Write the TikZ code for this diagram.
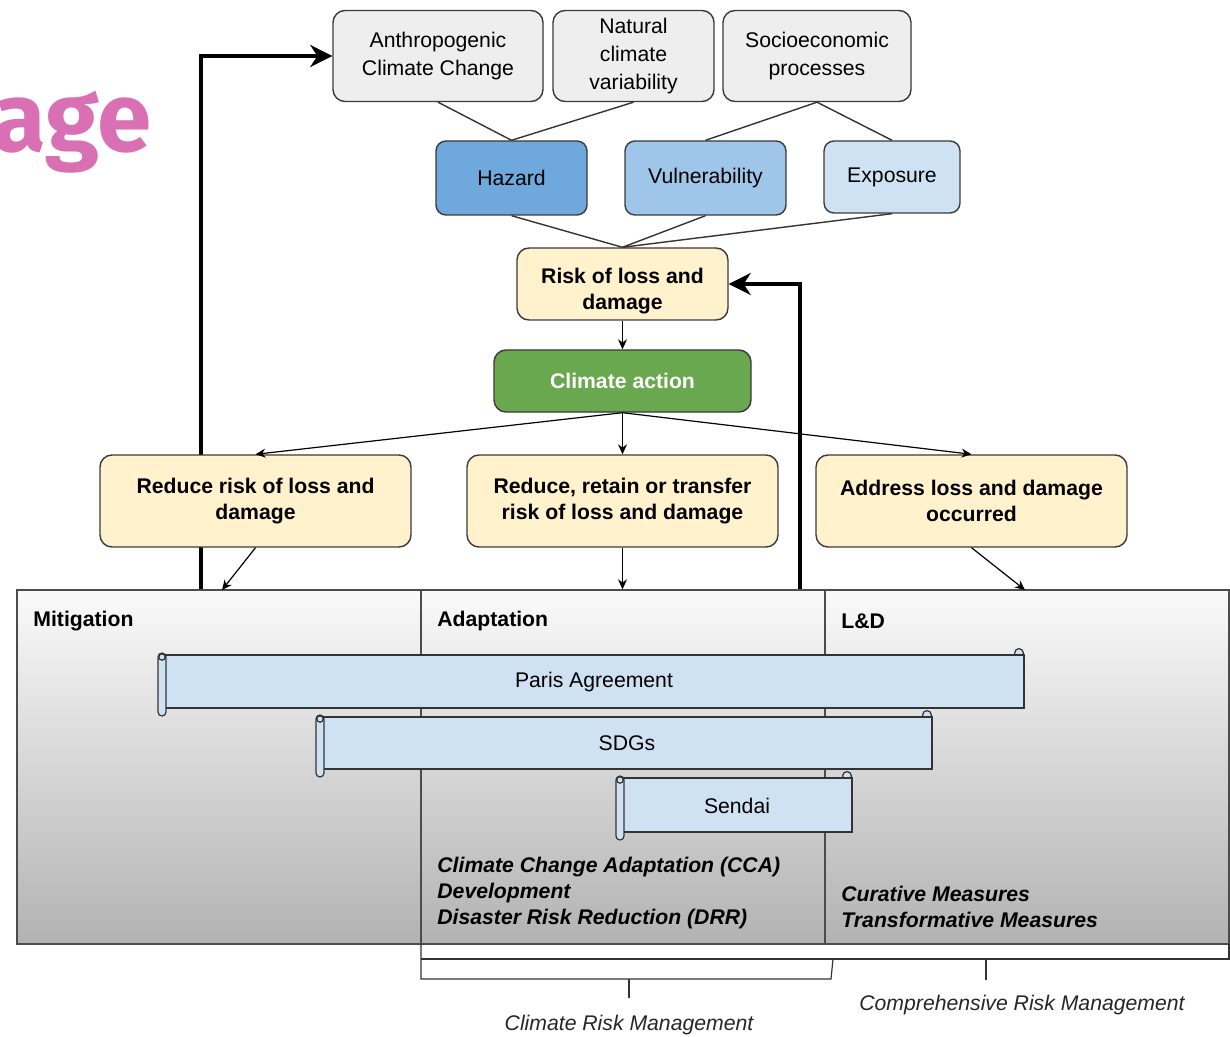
\documentclass[tikz,border=0pt]{standalone}
\usepackage{fontspec}
\setmainfont{Liberation Sans}
\newfontfamily\titlefont{Fira Sans}
\usepackage{xcolor}
\definecolor{boxgray}{HTML}{EEEEEE}
\definecolor{boxline}{HTML}{3A3A3A}
\definecolor{hazblue}{HTML}{6FA8DC}
\definecolor{vulblue}{HTML}{9FC5E8}
\definecolor{expblue}{HTML}{CFE2F3}
\definecolor{riskyellow}{HTML}{FFF2CC}
\definecolor{actiongreen}{HTML}{6AA84F}
\definecolor{titlepink}{HTML}{DA70B4}
\usetikzlibrary{arrows.meta,positioning,calc}
\newcommand{\txt}{\fontsize{10.6}{14}\selectfont}
\newcommand{\txtb}{\fontsize{10.6}{13}\selectfont\bfseries}
% name, x0, y0, x1, y1, text
\newcommand{\scrollbox}[6]{%
  \draw[scroll] ({#4-5},{#3+5}) circle (2.2pt);
  \draw[scroll] ({#2+6},{#3+7}) rectangle (#4,{#5-8});
  \draw[scroll, rounded corners=2pt] (#2,{#3+5}) rectangle ({#2+8},#5);
  \draw[scroll] ({#2+4},{#3+9}) circle (1.6pt);
  \node[font=\txt] (#1) at ({(#2+#4)/2+3},{(#3+#5)/2}) {#6};
}

\begin{document}
\begin{tikzpicture}[x=0.5pt,y=-0.5pt,
    cause/.style={draw=boxline, fill=boxgray, line width=0.7pt, rounded corners=6pt, align=center, inner sep=2pt, font=\txt},
    factor/.style={draw=boxline, line width=0.7pt, rounded corners=5pt, align=center, font=\txt},
    goal/.style={draw=boxline, fill=riskyellow, line width=0.7pt, rounded corners=6pt, align=center, font=\txtb},
    panel/.style={draw=black!70, line width=0.7pt, top color=black!2, bottom color=black!30, inner sep=0pt},
    scroll/.style={draw=black!80, fill=expblue, line width=0.6pt},
    link/.style={draw=black!80, line width=0.7pt},
    thinarrow/.style={draw=black, line width=0.6pt, -{Stealth[length=5pt,width=4.5pt]}},
    bigarrow/.style={draw=black, line width=2pt, -{Stealth[length=11pt,width=11pt,inset=3.5pt]}},
    bracket/.style={draw=black!80, line width=0.6pt},
    note/.style={font=\txt\itshape, text=black!85}]
    % \draw[style=help lines,step=50] (0,0) grid (1230,1037);
    \path[use as bounding box, clip] (0,0) rectangle (1230,1037);

    \node[anchor=base east, inner sep=0pt, text=titlepink, font=\titlefont\bfseries\fontsize{49}{50}\selectfont] (titletext) at (152,152) {age};

    % drivers
    \node[cause, minimum width=105pt, minimum height=45.5pt] (ACC) at (438,56) {Anthropogenic\\Climate Change};
    \node[cause, minimum width=80.5pt, minimum height=45.5pt] (NCV) at (633.5,56) {Natural\\climate\\variability};
    \node[cause, minimum width=94pt, minimum height=45.5pt] (SEP) at (817,56) {Socioeconomic\\processes};

    \node[factor, fill=hazblue, minimum width=75.5pt, minimum height=37pt] (Hazard) at (511.5,178) {Hazard};
    \node[factor, fill=vulblue, minimum width=80.5pt, minimum height=37pt] (Vuln) at (705.5,178) {Vulnerability};
    \node[factor, fill=expblue, minimum width=68pt, minimum height=36pt] (Expo) at (892,177) {Exposure};

    \node[goal, minimum width=105.5pt, minimum height=36pt] (Risk) at (622.5,284) {};
    \node[align=center, font=\txtb] (Risktext) at (622.5,291) {Risk of loss and\\damage};
    \node[goal, fill=actiongreen, text=white, minimum width=128.5pt, minimum height=31pt] (CA) at (622.5,381) {\raisebox{-1.5pt}{Climate action}};

    \path[link] (ACC.south) edge (Hazard.north) (NCV.south) edge (Hazard.north);
    \path[link] (SEP.south) edge (Vuln.north) edge (Expo.north);
    \path[link] (Hazard.south) edge (Risk.north) (Vuln.south) edge (Risk.north) (Expo.south) edge (Risk.north);
    \draw[thinarrow] (Risk) -- (CA);

    % feedback loops
    \coordinate (MitOut) at (201,590);
    \coordinate (AdpOut) at (800,590);
    \draw[bigarrow] (MitOut) |- (ACC.west);
    \draw[bigarrow] (AdpOut) |- (Risk.east);

    \node[goal, minimum width=155.5pt, minimum height=46pt] (RR) at (255.5,501) {Reduce risk of loss and\\damage};
    \node[goal, minimum width=155.5pt, minimum height=46pt] (RRT) at (622.5,501) {Reduce, retain or transfer\\risk of loss and damage};
    \node[goal, minimum width=155.5pt, minimum height=46pt] (ALD) at (971.5,501) {Address loss and damage\\occurred};

    \draw[thinarrow] (CA.south) -- (RR.north);
    \draw[thinarrow] (CA.south) -- (RRT.north);
    \draw[thinarrow] (CA.south) -- (ALD.north);

    % fields of action
    \node[panel, minimum width=202pt, minimum height=177pt] (Mit) at (219,767) {};
    \node[panel, minimum width=202pt, minimum height=177pt] (Adp) at (623,767) {};
    \node[panel, minimum width=202pt, minimum height=177pt] (LD) at (1027,767) {};
    \node[anchor=west, inner sep=0pt, font=\txtb] (Mittext) at (33,621) {Mitigation};
    \node[anchor=west, inner sep=0pt, font=\txtb] (Adptext) at (437,621) {Adaptation};
    \node[anchor=west, inner sep=0pt, font=\txtb] (LDtext) at (841,621) {L\&D};

    \coordinate (MitIn) at (222,590);
    \coordinate (LDIn) at (1025,590);
    \draw[thinarrow] (RR.south) -- (MitIn);
    \draw[thinarrow] (RRT.south) -- (RRT.south |- Adp.north);
    \draw[thinarrow] (ALD.south) -- (LDIn);

    \scrollbox{Paris}{158}{648}{1024}{716}{Paris Agreement}
    \scrollbox{SDG}{316}{710}{932}{777}{SDGs}
    \scrollbox{Sendai}{616}{771}{852}{840}{Sendai}

    \node[anchor=west, inner sep=0pt, align=left, font=\txtb\itshape] (Adpnote) at (437,893) {Climate Change Adaptation (CCA)\\Development\\Disaster Risk Reduction (DRR)};
    \node[anchor=west, inner sep=0pt, align=left, font=\txtb\itshape] (LDnote) at (841,907) {Curative Measures\\Transformative Measures};

    % risk management brackets
    \draw[bracket] (421,959) -- (1229,959) -- (1229,944);
    \draw[bracket] (421,944) -- (421,979) -- (831,979) -- (833,959);
    \coordinate (CRMtick) at (629,979);
    \coordinate (CompRMtick) at (986,959);
    \draw[bracket] (CRMtick) -- ++(0,19) node[note, below=5pt] (CRMtext) {Climate Risk Management};
    \draw[bracket] (CompRMtick) -- ++(0,21);
    \node[note] (CompRMtext) at (1022,1005) {Comprehensive Risk Management};
\end{tikzpicture}
\end{document}
